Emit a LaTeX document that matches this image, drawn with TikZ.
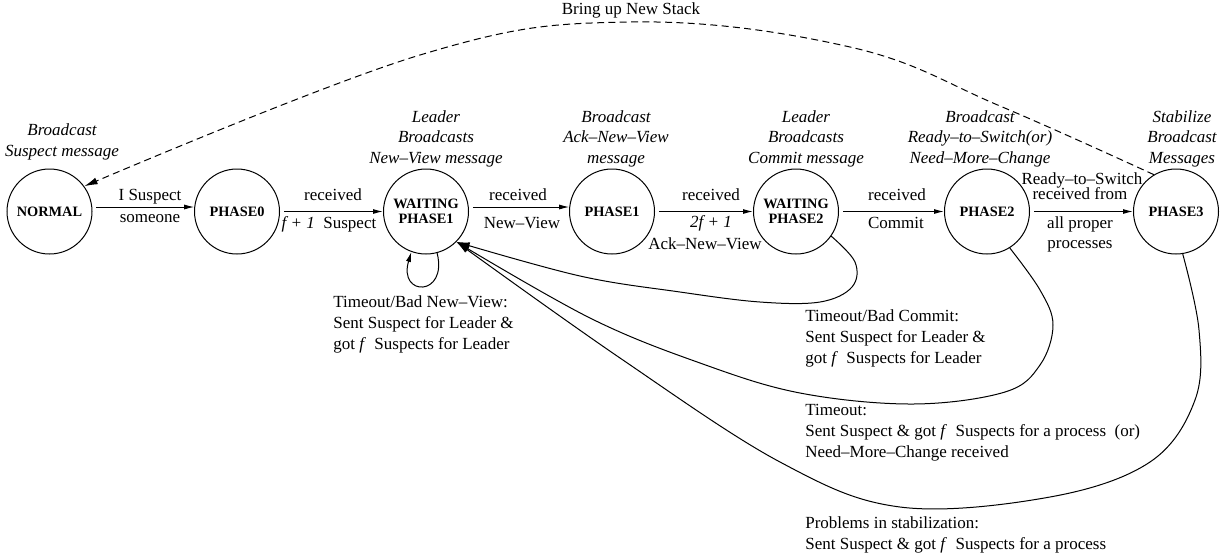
\documentclass[tikz,border=0pt]{standalone}
\usepackage{fontspec}
\setmainfont{Liberation Serif}
\usetikzlibrary{arrows.meta}
\begin{document}
\begin{tikzpicture}[x=0.6pt,y=-0.6pt,
  state/.style={circle, draw, line width=0.6pt, minimum size=51pt, inner sep=0pt,
    font=\fontsize{8.6}{9.3}\selectfont\bfseries, align=center},
  lbl/.style={inner sep=0pt, font=\fontsize{10.2}{12.3}\selectfont},
  ital/.style={inner sep=0pt, font=\fontsize{10.2}{12.3}\selectfont\itshape, align=center},
  note/.style={inner sep=0pt, font=\fontsize{10.2}{12.6}\selectfont, align=left, anchor=base west},
  arr/.style={-{Latex[length=6pt,width=3pt]}, line width=0.6pt},
  bigarr/.style={-{Latex[length=8pt,width=4.2pt]}, line width=0.6pt},
  dashy/.style={dash pattern=on 4.2pt off 2.6pt}
]
\useasboundingbox (0,0) rectangle (1231,552);

% states
\node[state] (N)  at (49.5,211.5) {NORMAL};
\node[state] (P0) at (237,211.5) {PHASE0};
\node[state] (W1) at (426,211.5) {WAITING\\PHASE1};
\node[state] (P1) at (612,211.5) {PHASE1};
\node[state] (W2) at (796,211.5) {WAITING\\PHASE2};
\node[state] (P2) at (987,211.5) {PHASE2};
\node[state] (P3) at (1176,211.5) {PHASE3};

% italic state descriptions (anchor base = last line)
\node[ital, anchor=base] (dN)  at (62,156) {Broadcast\\Suspect message};
\node[ital, anchor=base] (dW1) at (436,163) {Leader\\Broadcasts\\New–View message};
\node[ital, anchor=base] (dP1) at (616,163) {Broadcast\\Ack–New–View\\message};
\node[ital, anchor=base] (dW2) at (806,163) {Leader\\Broadcasts\\Commit message};
\node[ital, anchor=base] (dP2) at (980,163) {Broadcast\\Ready–to–Switch(or)\\Need–More–Change};
\node[ital, anchor=base] (dP3) at (1182,163) {Stabilize\\Broadcast\\Messages};

% forward transitions
\draw[arr, shorten <=2.4pt] (N.6) -- (P0.174);
\draw[arr, shorten <=2.4pt] (P0) -- (W1);
\draw[arr, shorten <=2.4pt] (W1.6) -- (P1.174);
\draw[arr, shorten <=2.4pt] (P1) -- (W2);
\draw[arr, shorten <=2.4pt] (W2) -- (P2);
\draw[arr, shorten <=2.4pt] (P2) -- (P3);

% transition labels
\node[lbl, anchor=base] (a1) at (150,200) {I Suspect};
\node[lbl, anchor=base] (b1) at (150,222) {someone};
\node[lbl, anchor=base] (a2) at (333,200) {received};
\node[lbl, anchor=base] (b2) at (329,228) {\textit{f + 1}~~Suspect};
\node[lbl, anchor=base] (a3) at (518,200) {received};
\node[lbl, anchor=base] (b3) at (522,228) {New–View};
\node[lbl, anchor=base] (a4) at (711,200) {received};
\node[lbl, anchor=base] (b4) at (711,227) {\textit{2f + 1}};
\node[lbl, anchor=base] (c4) at (705,249) {Ack–New–View};
\node[lbl, anchor=base] (a5) at (897,200) {received};
\node[lbl, anchor=base] (b5) at (896,228) {Commit};
\node[lbl, anchor=base] (a6) at (1082,184) {Ready–to–Switch};
\node[lbl, anchor=base] (a6b) at (1080,199) {received from};
\node[lbl, anchor=base] (b6) at (1080,228) {all proper};
\node[lbl, anchor=base] (b6b) at (1080,248) {processes};

% self loop
\draw[arr] (W1.-75) .. controls (448,297) and (398,297) .. (W1.-110);

% back transitions
\draw[bigarr] plot[smooth, tension=0.6] coordinates {(W2.-35) (855,262) (852,287) (820,302) (760,302) (680,292) (580,276) (W1.-45)};
\draw[bigarr] plot[smooth, tension=0.6] coordinates {(P2.-58) (1040,290) (1053,325) (1040,365) (1005,392) (913,404) (800,393) (700,363) (590,318) (W1.-45)};
\draw[bigarr] plot[smooth, tension=0.6] coordinates {(P3.-81) (1199,330) (1195,400) (1150,462) (1050,497) (900,507) (780,462) (620,358) (W1.-45)};

% dashed return
\draw[bigarr, dashy] plot[smooth, tension=0.65] coordinates {(P3.121) (1000,106) (850,47) (630,22) (420,55) (N.36)};
\node[lbl, anchor=base] (bs) at (631,14) {Bring up New Stack};

% notes (anchor base = last line)
\node[note] (t1) at (333,349) {Timeout/Bad New–View:\\Sent Suspect for Leader \&\\got \textit{f}~~Suspects for Leader};
\node[note] (t2) at (805,363) {Timeout/Bad Commit:\\Sent Suspect for Leader \&\\got \textit{f}~~Suspects for Leader};
\node[note] (t3) at (805,457) {Timeout:\\Sent Suspect \& got \textit{f}~~Suspects for a process~~(or)\\Need–More–Change received};
\node[note] (t4) at (805,549) {Problems in stabilization:\\Sent Suspect \& got \textit{f}~~Suspects for a process};
\end{tikzpicture}
\end{document}
